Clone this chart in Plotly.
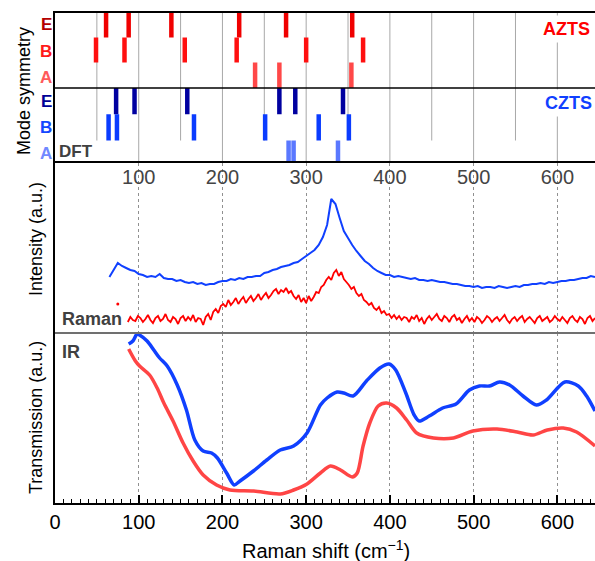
import plotly.graph_objects as go

# ---------------- DATA ----------------
# DFT mode positions (cm^-1)
azts_E = [61, 88, 139, 220, 276, 355]
azts_B = [49, 83, 155, 217, 300, 368]
azts_A = [239, 268, 354]
czts_E = [73, 95, 158, 268, 287, 344]
czts_B = [64, 74, 166, 251, 315, 351]
czts_A = [279, 285, 338]

# guide lines in the mode panel (cm^-1)
guide_full = [100, 200, 300, 400, 500, 600]
guide_part = [50, 150, 250, 350, 450, 550]

# Raman spectra (a.u.)
raman_czts_x = list(range(65, 650, 5))
raman_czts_y = [56, 63, 70, 67, 65, 63, 62, 59, 58, 56,
                57, 56, 59, 55, 54, 54, 52, 53, 51, 50,
                51, 49, 50, 48, 49, 49, 51, 52, 52, 54,
                53, 55, 54, 56, 56, 57, 57, 60, 61, 63,
                64, 66, 67, 68, 70, 71, 74, 77, 80, 83,
                88, 96, 108, 134, 129, 115, 102, 95, 88, 82,
                77, 72, 69, 65, 62, 60, 58, 58, 56, 57,
                56, 55, 54, 55, 53, 53, 52, 53, 52, 51,
                51, 50, 49, 49, 48, 47, 47, 46, 47, 45,
                46, 46, 45, 47, 46, 45, 46, 47, 46, 48,
                48, 49, 49, 50, 49, 51, 50, 51, 52, 52,
                53, 53, 54, 55, 55, 57, 56]

raman_azts_x = list(range(87, 646, 3))
raman_azts_y = [11, 16, 13, 12, 17, 15, 11, 14, 18, 13,
                10, 15, 17, 12, 14, 19, 13, 11, 16, 14,
                9, 15, 17, 12, 16, 13, 18, 11, 15, 14,
                8, 16, 19, 13, 21, 24, 20, 27, 29, 26,
                33, 28, 31, 35, 29, 33, 36, 30, 34, 37,
                32, 35, 39, 33, 37, 40, 35, 38, 42, 44,
                39, 43, 41, 45, 40, 42, 37, 34, 38, 31,
                35, 30, 37, 32, 36, 41, 40, 46, 48, 53,
                56, 53, 60, 63, 57, 61, 54, 51, 48, 44,
                46, 40, 37, 39, 33, 31, 28, 30, 25, 23,
                26, 20, 22, 18, 19, 15, 18, 14, 17, 13,
                16, 15, 11, 16, 14, 18, 12, 15, 9, 14,
                17, 13, 16, 19, 14, 12, 17, 15, 11, 16,
                18, 13, 15, 10, 14, 17, 12, 15, 11, 16,
                14, 10, 13, 17, 15, 11, 14, 16, 12, 15,
                18, 13, 10, 14, 16, 12, 15, 17, 11, 14,
                16, 13, 10, 15, 17, 12, 14, 16, 11, 13,
                17, 14, 12, 16, 13, 10, 15, 17, 13, 11,
                16, 14, 9, 15, 17, 12, 15]
raman_azts_dot_x = [75]
raman_azts_dot_y = [29]

# IR transmission (a.u.)
ir_czts_x = [88, 93, 98, 101, 110, 118, 125, 134, 146, 157, 167, 177, 187, 194,
             205, 214, 221, 237, 253, 269, 285, 301, 317, 325, 337, 345, 356, 372,
             388, 399, 407, 419, 429, 435, 447, 463, 479, 495, 507, 519, 531, 543,
             559, 575, 587, 609, 625, 635, 645]
ir_czts_y = [159, 162, 169, 168, 162, 153, 145, 137, 118, 93, 63, 52, 50, 45,
             30, 18, 22, 32, 43, 53, 57, 70, 98, 105, 111, 110, 107, 122,
             135, 139, 133, 110, 88, 82, 87, 95, 99, 113, 117, 117, 121, 118,
             107, 98, 103, 121, 117, 107, 92]

ir_azts_x = [88, 96, 101, 113, 122, 130, 141, 153, 165, 177, 193, 209, 237, 269,
             285, 301, 317, 329, 341, 355, 361, 368, 376, 386, 396, 408, 420, 432,
             452, 476, 499, 528, 552, 571, 588, 607, 623, 645]
ir_azts_y = [154, 142, 137, 128, 115, 100, 82, 60, 42, 28, 18, 13, 12, 9,
             13, 19, 30, 37, 33, 26, 30, 57, 80, 97, 100, 95, 83, 70,
             65, 65, 72, 74, 71, 68, 73, 75, 71, 57]

x_ticks_top = [100, 200, 300, 400, 500, 600]

# ---------------- STYLE ----------------
FONT = "Liberation Sans, Arial, sans-serif"
BLUE = "#1040ff"
RED = "#ff0000"
IRRED = "#ff4545"
GRAY_TXT = "#404040"

L, R, T, B = 55, 0, 13, 58
W, H = 595, 561
PW, PH = W - L - R, H - T - B
d_bot = [0, 170 / PH]
d_mid = [170 / PH, 340 / PH]
d_top = [340 / PH, 1]


def P(px, py):
    return (px - L) / PW, (H - B - py) / PH


fig = go.Figure()

# guide lines in DFT panel
gx, gy = [], []
for v in guide_full:
    gx += [v, v, None]
    gy += [0, 6, None]
for v in guide_part:
    gx += [v, v, None]
    gy += [0.9, 6, None]
fig.add_trace(go.Scatter(x=gx, y=gy, mode="lines", line=dict(color="#a8a8a8", width=1),
                         hoverinfo="skip", showlegend=False, xaxis="x", yaxis="y"))

rows = [
    (azts_E, 5.02, 6.0, "#f00000"),
    (azts_B, 4.02, 5.02, "#ff1010"),
    (azts_A, 3.0, 4.02, "#ff4848"),
    (czts_E, 1.95, 3.0, "#0000a0"),
    (czts_B, 0.9, 1.95, "#0a3cff"),
    (czts_A, 0.0, 0.9, "#5a78ff"),
]
for vals, y0, y1, col in rows:
    bx, by = [], []
    for v in vals:
        bx += [v, v, None]
        by += [y0, y1, None]
    fig.add_trace(go.Scatter(x=bx, y=by, mode="lines", line=dict(color=col, width=4.5),
                             hoverinfo="skip", showlegend=False, xaxis="x", yaxis="y"))

# Raman
fig.add_trace(go.Scatter(x=raman_czts_x, y=raman_czts_y, mode="lines",
                         line=dict(color=BLUE, width=2, simplify=False), showlegend=False,
                         xaxis="x2", yaxis="y2"))
fig.add_trace(go.Scatter(x=raman_azts_x, y=raman_azts_y, mode="lines",
                         line=dict(color=RED, width=1.8, simplify=False), showlegend=False,
                         xaxis="x2", yaxis="y2"))
fig.add_trace(go.Scatter(x=raman_azts_dot_x, y=raman_azts_dot_y, mode="markers",
                         marker=dict(color=RED, size=3), showlegend=False,
                         xaxis="x2", yaxis="y2"))

# IR
fig.add_trace(go.Scatter(x=ir_czts_x, y=ir_czts_y, mode="lines",
                         line=dict(color=BLUE, width=3.5, shape="spline", smoothing=0.8),
                         showlegend=False, xaxis="x3", yaxis="y3"))
fig.add_trace(go.Scatter(x=ir_azts_x, y=ir_azts_y, mode="lines",
                         line=dict(color=IRRED, width=3.5, shape="spline", smoothing=0.8),
                         showlegend=False, xaxis="x3", yaxis="y3"))

yax = dict(showline=True, linecolor="black", linewidth=1.5, showticklabels=False,
           ticks="", showgrid=False, zeroline=False, fixedrange=True)

fig.update_layout(
    width=W, height=H,
    margin=dict(l=L, r=R, t=T, b=B),
    paper_bgcolor="white", plot_bgcolor="white",
    font=dict(family=FONT, size=17, color="black"),
    xaxis=dict(domain=[0, 1], range=[0, 645], anchor="y", side="top", showline=True,
               linecolor="black", linewidth=1.5, showticklabels=False, ticks="",
               showgrid=False, zeroline=False),
    yaxis=dict(domain=d_top, range=[0, 6], **yax),
    xaxis2=dict(domain=[0, 1], range=[0, 645], anchor="y2", side="top", showline=True,
                linecolor="black", linewidth=1.5, tickmode="array", tickvals=x_ticks_top,
                ticklabelposition="inside", ticklabelstandoff=8, ticks="", showgrid=True,
                gridcolor="#909090", griddash="dot", gridwidth=1, zeroline=False,
                tickfont=dict(size=20)),
    yaxis2=dict(domain=d_mid, range=[0, 170], **yax),
    xaxis3=dict(domain=[0, 1], range=[0, 645], anchor="y3", showline=True,
                linecolor="black", linewidth=1.5, tickmode="linear", tick0=0, dtick=100,
                ticks="inside", ticklen=8, tickwidth=1.5, tickcolor="black",
                minor=dict(ticks="inside", ticklen=4, tickwidth=1.2, tickcolor="black",
                           tickmode="linear", tick0=0, dtick=10, showgrid=False),
                showgrid=True, gridcolor="#909090", griddash="dot", gridwidth=1,
                zeroline=False, tickfont=dict(size=20)),
    yaxis3=dict(domain=d_bot, range=[0, 170], **yax),
)

shapes = [
    dict(type="line", xref="paper", yref="y", x0=0, x1=1, y0=3, y1=3,
         line=dict(color="black", width=1.5)),
    dict(type="line", xref="paper", yref="paper", x0=0, x1=1, y0=d_bot[1], y1=d_bot[1],
         line=dict(color="#707070", width=2)),
]
fig.update_layout(shapes=shapes)

ann = []


def A(text, px, py, size=17, color="black", bold=False, angle=0, bg=None, xanchor="center"):
    x, y = P(px, py)
    d = dict(text=("<b>%s</b>" % text) if bold else text, x=x, y=y, xref="paper",
             yref="paper", showarrow=False, xanchor=xanchor, yanchor="middle",
             textangle=angle, font=dict(family=FONT, size=size, color=color))
    if bg:
        d.update(bgcolor=bg, borderpad=3)
    ann.append(d)


# row labels
A("E", 46, 24, 17, "#b40000", True)
A("B", 46, 51, 17, "#ff1a1a", True)
A("A", 46, 77, 17, "#ff5a5a", True)
A("E", 46, 101, 17, "#000096", True)
A("B", 46, 127, 17, "#1448ff", True)
A("A", 46, 153, 17, "#7088ff", True)

A("DFT", 76, 151, 17, GRAY_TXT, True)
A("AZTS", 566, 29, 18, "#ff0000", True, bg="white")
A("CZTS", 568, 103, 18, "#1040ff", True, bg="white")
A("Raman", 92, 319, 18, GRAY_TXT, True)
A("IR", 71, 352, 18, GRAY_TXT, True)

A("Mode symmetry", 24, 91, 18, angle=-90)
A("Intensity (a.u.)", 36, 239, 18, angle=-90)
A("Transmission (a.u.)", 36, 418, 18, angle=-90)
A("Raman shift (cm<sup>\u22121</sup>)", 326, 549, 20)

fig.update_layout(annotations=ann)

fig.write_html("out.html")
